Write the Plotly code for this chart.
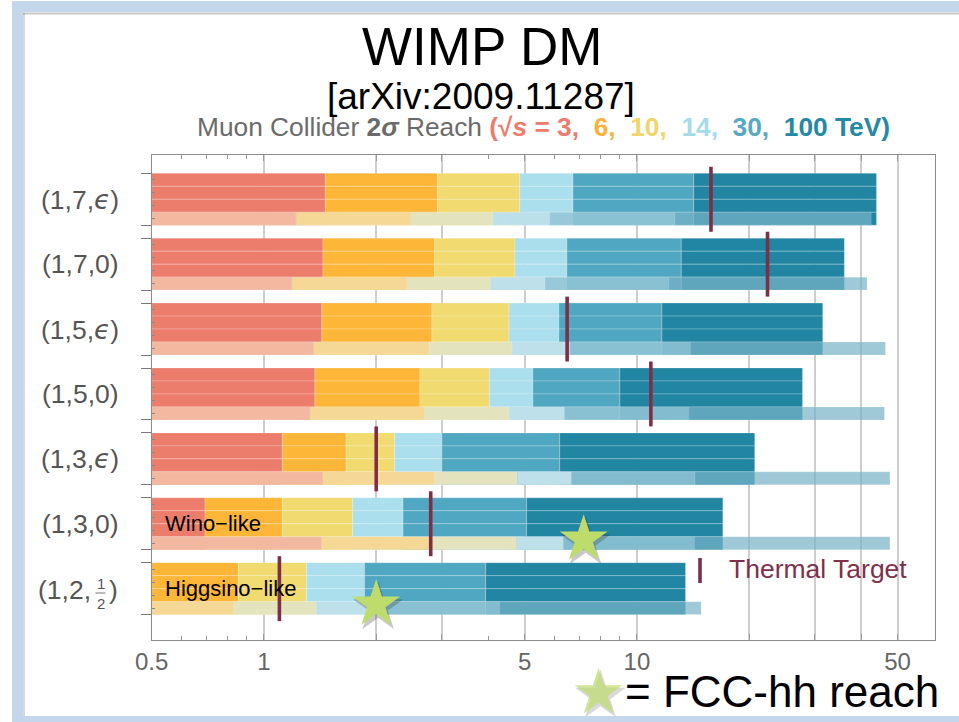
import math
import plotly.graph_objects as go

# ---------------------------------------------------------------- data
ENERGIES = ["3", "6", "10", "14", "30", "100"]          # muon collider sqrt(s) [TeV]
ROW_LABELS = ["(1,7,ϵ)", "(1,7,0)", "(1,5,ϵ)", "(1,5,0)",
              "(1,3,ϵ)", "(1,3,0)", "(1,2,1/2)"]

# 2-sigma mass reach [TeV] for each sqrt(s); None = below the plotted range
REACH = [
    [1.46, 2.92, 4.85, 6.74, 14.2, 43.9],
    [1.44, 2.87, 4.71, 6.49, 13.15, 36.0],
    [1.43, 2.82, 4.54, 6.18, 11.67, 31.5],
    [1.37, 2.62, 4.02, 5.26, 9.00, 27.8],
    [1.12, 1.66, 2.24, 3.00, 6.21, 20.7],
    [0.695, 1.12, 1.73, 2.36, 5.06, 17.0],
    [None, 0.854, 1.30, 1.86, 3.93, 13.5],
]
# second reach estimate (thin lower strip of each row)
REACH_ALT = [
    [1.22, 2.47, 4.11, 5.83, 12.65, 42.5],
    [1.19, 2.42, 4.05, 5.67, 12.18, 41.4],
    [1.36, 2.77, 4.63, 6.61, 13.93, 46.4],
    [1.33, 2.70, 4.54, 6.40, 13.78, 46.1],
    [1.44, 2.87, 4.78, 6.68, 14.32, 47.7],
    [1.43, 2.84, 4.76, 6.36, 14.28, 47.7],
    [None, 0.828, 1.38, 2.03, 4.29, 14.87],
]
THERMAL = [15.8, 22.4, 6.5, 10.9, 2.0, 2.8, 1.1]      # thermal target mass [TeV]
FCC_ROWS = [5, 6]                                      # rows with an FCC-hh star
FCC_REACH = [7.2, 2.0]                                 # FCC-hh reach [TeV]
INNER_LABELS = {5: "Wino−like", 6: "Higgsino−like"}

X_MIN, X_MAX = 0.5, 63
X_TICKS = [0.5, 1, 2, 3, 5, 10, 20, 30, 40, 50]
X_TICK_TEXT = ["0.5", "1", "", "", "5", "10", "", "", "", "50"]
X_MINOR = [0.6, 0.7, 0.8, 0.9, 4, 6, 7, 8, 9]

# ---------------------------------------------------------------- style
MAIN_COLORS = ["#ec7c6c", "#fdb637", "#f1da6f", "#abdfed", "#50a7c1", "#2286a3"]
ALT_COLORS = ["#f2b9a0", "#f5d896", "#e3e4bd", "#bde0ea", "#94c6d6", "#79b3c7"]
ALT_ALPHA = [1, 1, 1, 1, 0.85, 0.7]
TITLE_COLORS = ["#ee7b6b", "#fbb13c", "#f0d56a", "#a6dbeb", "#56a9c2", "#2589a6"]
THERMAL_COLOR = "#7d2f47"
STAR_COLOR = "#bddc6c"
SHADOW = "rgba(40,40,40,0.25)"
FONT = "Liberation Sans, Arial, sans-serif"

W, H = 959, 722
PLOT_L, PLOT_R, PLOT_T, PLOT_B = 151.7, 935, 155, 640
ROW_TOP0, ROW_PITCH = 173.3, 64.9      # first bar top and row spacing (px)


def px(x):
    return x / W


def py(y):
    return 1 - y / H


def u(ypix):
    """pixel row -> category-axis units"""
    return (ypix - ROW_TOP0) / ROW_PITCH


def eps(label):
    # lunate epsilon from DejaVu, which has the glyph
    return label.replace("ϵ", "<span style='font-family:DejaVu Sans'><i>ϵ</i></span>")


fig = go.Figure()
n_rows = len(ROW_LABELS)

# main bars: four thin strips per row (full row height)
for k, e in enumerate(ENERGIES):
    ys, bases, widths = [], [], []
    for r in range(n_rows):
        val = REACH[r][k]
        if val is None:
            continue
        prev = [v for v in REACH[r][:k] if v is not None]
        left = prev[-1] if prev else X_MIN
        for s in range(4):
            ys.append(r + 0.1 + 0.2 * s)
            bases.append(left)
            widths.append(val - left)
    fig.add_trace(go.Bar(
        orientation="h", y=ys, x=widths, base=bases, width=0.2,
        marker=dict(color=MAIN_COLORS[k],
                    line=dict(color="rgba(255,255,255,0.22)", width=1)),
        name=f"{e} TeV", hoverinfo="skip"))

# lower strip: alternative reach, drawn over the bottom strip
for k, e in enumerate(ENERGIES):
    ys, bases, widths = [], [], []
    for r in range(n_rows):
        val = REACH_ALT[r][k]
        if val is None:
            continue
        prev = [v for v in REACH_ALT[r][:k] if v is not None]
        left = prev[-1] if prev else X_MIN
        ys.append(r + 0.7)
        bases.append(left)
        widths.append(val - left)
    fig.add_trace(go.Bar(
        orientation="h", y=ys, x=widths, base=bases, width=0.2,
        opacity=ALT_ALPHA[k],
        marker=dict(color=ALT_COLORS[k],
                    line=dict(color="rgba(255,255,255,0.18)", width=0.8)),
        name=f"{e} TeV alt", hoverinfo="skip"))

# thermal target ticks
tx, ty = [], []
for r, m in enumerate(THERMAL):
    tx += [m, m, None]
    ty += [r - 0.1, r + 0.9, None]
fig.add_trace(go.Scatter(x=tx, y=ty, mode="lines",
                         line=dict(color=THERMAL_COLOR, width=3.6),
                         hoverinfo="skip"))

# FCC-hh stars (with a soft drop shadow)
star_y = [r + 0.64 for r in FCC_ROWS]
fig.add_trace(go.Scatter(
    x=[m * 10 ** (2 / 373) for m in FCC_REACH], y=[v + 0.05 for v in star_y],
    mode="markers", hoverinfo="skip",
    marker=dict(symbol="star", size=38, color=SHADOW, line=dict(width=0))))
fig.add_trace(go.Scatter(
    x=FCC_REACH, y=star_y, mode="markers", hoverinfo="skip",
    marker=dict(symbol="star", size=36, color=STAR_COLOR, line=dict(width=0))))

# legend key for the stars, on a pixel-unit overlay axis pair
KEY_X, KEY_Y = 598.5, 693
fig.add_trace(go.Scatter(
    x=[KEY_X + 2, KEY_X], y=[KEY_Y + 3, KEY_Y], xaxis="x2", yaxis="y2",
    mode="markers", hoverinfo="skip",
    marker=dict(symbol="star", size=[38, 36], color=[SHADOW, STAR_COLOR],
                line=dict(width=0))))

# ---------------------------------------------------------------- text
ann = []
shapes = []
for r, lab in enumerate(ROW_LABELS):
    if "/" in lab:
        head, frac = lab[:-1].rsplit(",", 1)
        num, den = frac.split("/")
        ann.append(dict(text=head + ",", x=px(93), y=r + 0.42, xanchor="right"))
        ann.append(dict(text=num, x=px(100.5), y=u(583), xanchor="center",
                        font=dict(size=15, color="#555", family=FONT)))
        ann.append(dict(text=den, x=px(100.5), y=u(603), xanchor="center",
                        font=dict(size=15, color="#555", family=FONT)))
        ann.append(dict(text=")", x=px(107), y=r + 0.42, xanchor="left"))
        shapes.append(dict(type="line", xref="paper", yref="y",
                           x0=px(95.5), x1=px(105.5), y0=u(593), y1=u(593),
                           line=dict(color="#777", width=1)))
    else:
        ann.append(dict(text=eps(lab), x=px(121), y=r + 0.4, xanchor="right"))
for a in ann:
    a.setdefault("font", dict(size=26.5, color="#555", family=FONT))
    a.update(xref="paper", yref="y", yanchor="middle", showarrow=False)

for r, t in INNER_LABELS.items():
    ann.append(dict(text=t, xref="paper", yref="y", x=px(163), y=r + 0.4,
                    xanchor="left", yanchor="middle", showarrow=False,
                    font=dict(size=22, color="black", family=FONT)))

sub = ("Muon Collider <b>2<i>σ</i></b> Reach <b>"
       + f"<span style='color:{TITLE_COLORS[0]}'>(√<i>s</i> = {ENERGIES[0]},</span>"
       + "".join(f"\u00a0 <span style='color:{TITLE_COLORS[k]}'>{ENERGIES[k]}"
                 + (",</span>" if k < len(ENERGIES) - 1 else " TeV)</span>")
                 for k in range(1, len(ENERGIES)))
       + "</b>")

paper_text = [
    dict(text="WIMP DM", x=px(482), y=py(46), font=dict(size=53, color="black")),
    dict(text="[arXiv:2009.11287]", x=px(481), y=py(97), font=dict(size=37, color="black")),
    dict(text=sub, x=px(543), y=py(127), font=dict(size=26.3, color="#6b6b6b")),
    dict(text="Thermal Target", x=px(727), y=py(569), xanchor="left",
         font=dict(size=26.5, color="#80304a")),
    dict(text="= FCC-hh reach", x=px(623), y=py(691), xanchor="left",
         font=dict(size=44, color="black")),
]
for a in paper_text:
    a.setdefault("xanchor", "center")
    a["font"].setdefault("family", FONT)
    a.update(xref="paper", yref="paper", yanchor="middle", showarrow=False)
    ann.append(a)

# thermal-target legend key
shapes.append(dict(type="line", xref="paper", yref="paper",
                   x0=px(700), x1=px(700), y0=py(558), y1=py(583),
                   line=dict(color=THERMAL_COLOR, width=3.6)))
# slide frame
shapes.append(dict(type="rect", xref="paper", yref="paper",
                   x0=px(17.5), x1=px(975), y0=py(6.5), y1=py(721.5),
                   line=dict(color="#c4d6ea", width=11), layer="above"))
shapes.append(dict(type="line", xref="paper", yref="paper",
                   x0=px(23), x1=px(975), y0=py(13.5), y1=py(13.5),
                   line=dict(color="rgba(0,0,0,0.22)", width=2)))
shapes.append(dict(type="line", xref="paper", yref="paper",
                   x0=px(24), x1=px(24), y0=py(13), y1=py(716),
                   line=dict(color="rgba(0,0,0,0.15)", width=2)))

y_major = sorted([r for r in range(n_rows)] + [r + 0.8 for r in range(n_rows)])
y_minor = sorted(r + d for r in range(n_rows) for d in (0.1, 0.3, 0.5, 0.7))

fig.update_layout(
    width=W, height=H,
    margin=dict(l=0, r=0, t=0, b=0, autoexpand=False),
    paper_bgcolor="white", plot_bgcolor="rgba(0,0,0,0)",
    barmode="overlay", showlegend=False,
    font=dict(family=FONT),
    annotations=ann, shapes=shapes,
    xaxis=dict(
        type="log", domain=[px(PLOT_L), px(PLOT_R)], automargin=False,
        range=[math.log10(X_MIN), math.log10(X_MAX)],
        tickmode="array", tickvals=X_TICKS, ticktext=X_TICK_TEXT,
        ticks="inside", ticklen=6, tickcolor="#999", tickwidth=1,
        showline=True, linecolor="#8c8c8c", linewidth=1.3, mirror="ticks",
        showgrid=True, gridcolor="#cdcdcd", gridwidth=1.8, zeroline=False,
        tickfont=dict(size=24, color="#666", family=FONT),
        minor=dict(tickmode="array", tickvals=X_MINOR, ticks="inside",
                   ticklen=4, tickcolor="#999", showgrid=False),
    ),
    yaxis=dict(
        domain=[py(PLOT_B), py(PLOT_T)], automargin=False,
        range=[u(PLOT_B), u(PLOT_T)],
        tickmode="array", tickvals=y_major, showticklabels=False,
        ticks="outside", ticklen=10, tickcolor="#777", tickwidth=1,
        showline=True, linecolor="#8c8c8c", linewidth=1.3, mirror=True,
        showgrid=False, zeroline=False,
        minor=dict(tickmode="array", tickvals=y_minor, ticks="inside",
                   ticklen=3, tickcolor="#888", showgrid=False),
    ),
    xaxis2=dict(domain=[0, 1], anchor="y2", range=[0, W], visible=False,
                automargin=False),
    yaxis2=dict(domain=[0, 1], anchor="x2", range=[H, 0], visible=False,
                automargin=False),
)

fig.write_html("out.html")
